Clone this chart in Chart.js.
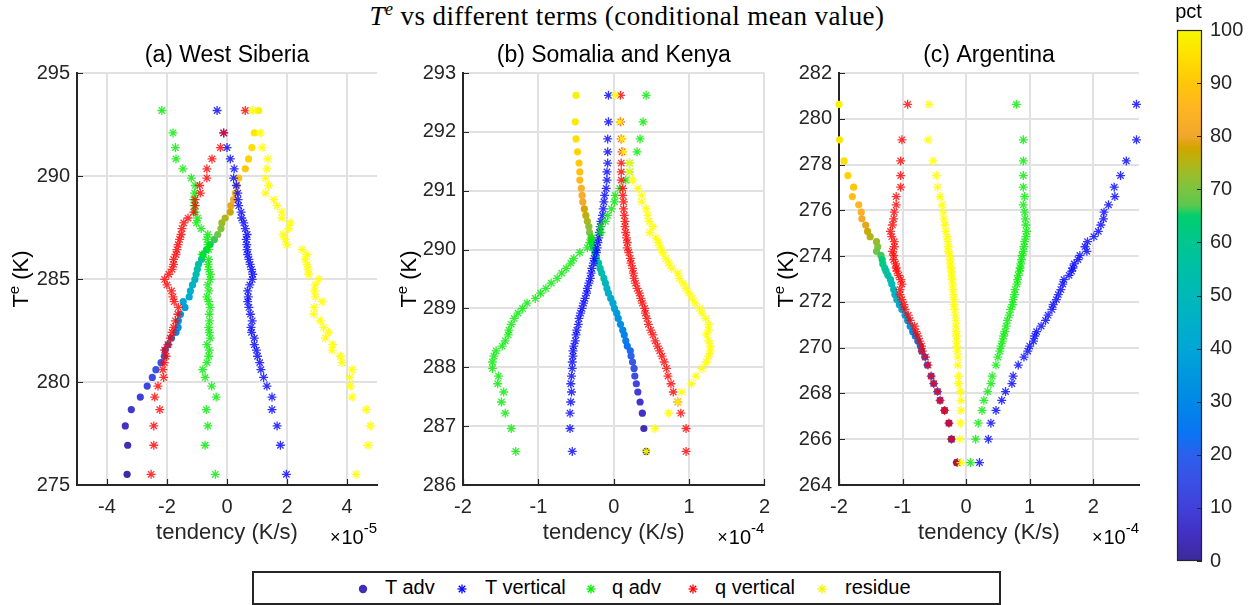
<!DOCTYPE html>
<html>
<head>
<meta charset="utf-8">
<script src="https://cdn.jsdelivr.net/npm/chart.js@4.4.1/dist/chart.umd.min.js"></script>
<style>
  body { margin: 0; background: #fff; }
  #page { position: relative; width: 1251px; height: 605px; overflow: hidden; font-family: 'Liberation Sans', Arial, sans-serif; }
  canvas { position: absolute; }
  #title { position: absolute; left: 0; width: 1254px; top: 1px; text-align: center; font-family: 'Liberation Serif', 'Times New Roman', serif; font-size: 27px; letter-spacing: 0.4px; color: #000; white-space: nowrap; }
  #title .sup { position: relative; top: -10px; font-size: 18px; }
  #legend { position: absolute; left: 252px; top: 571px; width: 745px; height: 30px; border: 2px solid #262626; background: #fff; }
  #legend svg, #legend span { position: absolute; }
  #legend span { top: 3px; font-size: 20px; color: #000; }
  #legend svg { top: 10px; }
</style>
</head>
<body>
<div id="page">
  <div id="title"><i>T</i><span class="sup"><i>e</i></span> vs different terms (conditional mean value)</div>
  <canvas id="pa"></canvas>
  <canvas id="pb"></canvas>
  <canvas id="pc"></canvas>
  <canvas id="cbar"></canvas>
  <div id="legend"></div>
</div>
<script>
// ---- data ----
// tendencies: panel (a) in 1e-5 K/s, panels (b) and (c) in 1e-4 K/s
const seriesNames = ['T adv', 'T vertical', 'q adv', 'q vertical', 'residue'];
const panelTitles = ['(a) West Siberia', '(b) Somalia and Kenya', '(c) Argentina'];

const teA = [275.52, 276.93, 277.87, 278.66, 279.27, 279.80, 280.22, 280.60, 280.94, 281.25, 281.55, 281.81, 282.13, 282.41, 282.65, 282.97, 283.29, 283.62, 283.90, 284.13, 284.42, 284.71, 284.98, 285.23, 285.47, 285.71, 285.95, 286.19, 286.43, 286.67, 286.92, 287.16, 287.45, 287.72, 287.96, 288.25, 288.56, 288.85, 289.17, 289.54, 289.90, 290.35, 290.83, 291.38, 292.09, 293.18];
const tAdvA = [-3.33, -3.31, -3.39, -3.19, -2.89, -2.66, -2.49, -2.37, -2.20, -2.09, -2.06, -1.96, -1.85, -1.70, -1.63, -1.62, -1.55, -1.40, -1.46, -1.26, -1.22, -1.15, -1.07, -1.03, -0.99, -0.95, -0.85, -0.80, -0.68, -0.56, -0.42, -0.31, -0.20, -0.17, -0.06, 0.11, 0.13, 0.22, 0.28, 0.33, 0.39, 0.61, 0.72, 0.83, 0.91, 1.06];
const tVertA = [1.98, 1.78, 1.67, 1.50, 1.50, 1.33, 1.22, 1.13, 1.09, 1.02, 0.98, 0.91, 0.91, 0.82, 0.80, 0.84, 0.78, 0.73, 0.69, 0.71, 0.69, 0.76, 0.84, 0.86, 0.82, 0.77, 0.73, 0.69, 0.67, 0.66, 0.64, 0.67, 0.61, 0.56, 0.49, 0.47, 0.39, 0.37, 0.36, 0.31, 0.22, 0.24, 0.11, 0.00, -0.11, -0.33];
const qAdvA = [-0.39, -0.73, -0.64, -0.69, -0.36, -0.51, -0.73, -0.81, -0.67, -0.61, -0.59, -0.67, -0.56, -0.59, -0.61, -0.58, -0.59, -0.56, -0.61, -0.67, -0.60, -0.64, -0.56, -0.56, -0.61, -0.63, -0.61, -0.83, -0.61, -0.64, -0.67, -0.64, -0.86, -1.02, -0.98, -1.06, -1.09, -1.11, -1.08, -1.06, -1.19, -1.47, -1.70, -1.72, -1.80, -2.17];
const qVertA = [-2.53, -2.44, -2.44, -2.24, -2.41, -2.30, -2.11, -2.14, -2.09, -2.03, -2.08, -1.97, -1.89, -1.83, -1.78, -1.72, -1.64, -1.62, -1.76, -1.80, -1.85, -2.00, -2.08, -1.94, -1.83, -1.78, -1.78, -1.70, -1.67, -1.63, -1.58, -1.53, -1.50, -1.44, -1.30, -1.11, -1.06, -1.06, -0.89, -0.91, -0.67, -0.67, -0.50, -0.22, -0.11, 0.61];
const resA = [4.30, 4.70, 4.78, 4.64, 4.17, 4.11, 4.09, 4.17, 3.83, 3.78, 3.50, 3.52, 3.28, 3.39, 3.22, 3.11, 2.89, 2.90, 3.17, 2.95, 2.92, 2.94, 3.06, 2.72, 2.70, 2.67, 2.61, 2.67, 2.50, 2.00, 1.94, 1.87, 2.05, 2.11, 1.83, 1.83, 1.67, 1.56, 1.28, 1.39, 1.28, 1.33, 1.36, 1.17, 1.11, 0.86];

const teB = [292.62, 292.17, 291.88, 291.66, 291.47, 291.32, 291.18, 291.04, 290.92, 290.81, 290.69, 290.58, 290.48, 290.39, 290.29, 290.20, 290.12, 290.03, 289.95, 289.85, 289.77, 289.68, 289.60, 289.51, 289.43, 289.34, 289.26, 289.17, 289.09, 289.00, 288.92, 288.83, 288.73, 288.63, 288.55, 288.45, 288.36, 288.28, 288.19, 288.09, 287.98, 287.85, 287.72, 287.58, 287.41, 287.22, 286.96, 286.57];
const tAdvB = [-0.50, -0.51, -0.50, -0.48, -0.46, -0.45, -0.45, -0.43, -0.42, -0.41, -0.39, -0.37, -0.35, -0.33, -0.32, -0.30, -0.29, -0.27, -0.25, -0.23, -0.20, -0.18, -0.16, -0.13, -0.11, -0.09, -0.07, -0.04, -0.01, 0.01, 0.04, 0.06, 0.09, 0.12, 0.14, 0.16, 0.18, 0.22, 0.23, 0.25, 0.27, 0.28, 0.30, 0.32, 0.35, 0.38, 0.40, 0.43];
const tVertB = [-0.07, -0.07, -0.08, -0.08, -0.08, -0.09, -0.09, -0.10, -0.12, -0.13, -0.14, -0.15, -0.17, -0.18, -0.19, -0.20, -0.21, -0.22, -0.23, -0.26, -0.27, -0.29, -0.30, -0.31, -0.33, -0.35, -0.36, -0.38, -0.40, -0.42, -0.44, -0.46, -0.47, -0.49, -0.50, -0.51, -0.53, -0.54, -0.54, -0.55, -0.55, -0.56, -0.57, -0.56, -0.57, -0.58, -0.58, -0.55];
const qAdvB = [0.43, 0.39, 0.35, 0.31, 0.21, 0.21, 0.16, 0.08, 0.02, 0.01, -0.03, -0.08, -0.11, -0.17, -0.17, -0.29, -0.32, -0.35, -0.45, -0.53, -0.57, -0.63, -0.69, -0.75, -0.83, -0.90, -0.97, -1.04, -1.15, -1.21, -1.27, -1.32, -1.36, -1.39, -1.40, -1.44, -1.48, -1.56, -1.59, -1.61, -1.61, -1.53, -1.54, -1.46, -1.49, -1.44, -1.36, -1.30];
const qVertB = [0.09, 0.09, 0.10, 0.11, 0.10, 0.10, 0.10, 0.12, 0.12, 0.13, 0.13, 0.14, 0.15, 0.15, 0.16, 0.17, 0.18, 0.18, 0.20, 0.22, 0.23, 0.25, 0.26, 0.27, 0.29, 0.31, 0.34, 0.36, 0.38, 0.41, 0.42, 0.44, 0.46, 0.49, 0.52, 0.55, 0.58, 0.61, 0.64, 0.67, 0.70, 0.72, 0.76, 0.79, 0.85, 0.89, 0.96, 0.96];
const resB = [0.02, 0.08, 0.11, 0.13, 0.21, 0.21, 0.25, 0.32, 0.37, 0.37, 0.43, 0.45, 0.47, 0.52, 0.48, 0.56, 0.59, 0.62, 0.65, 0.69, 0.73, 0.77, 0.85, 0.87, 0.92, 0.96, 1.00, 1.04, 1.08, 1.14, 1.17, 1.22, 1.26, 1.26, 1.23, 1.26, 1.28, 1.28, 1.26, 1.23, 1.17, 1.09, 1.03, 0.90, 0.85, 0.73, 0.55, 0.43];

const teC = [280.63, 279.08, 278.16, 277.52, 277.01, 276.60, 276.24, 275.92, 275.63, 275.36, 275.08, 274.85, 274.63, 274.41, 274.21, 274.03, 273.85, 273.66, 273.48, 273.34, 273.16, 272.97, 272.78, 272.54, 272.32, 272.10, 271.88, 271.67, 271.42, 271.19, 270.94, 270.70, 270.51, 270.29, 270.07, 269.85, 269.59, 269.24, 268.76, 268.43, 268.08, 267.70, 267.26, 266.70, 266.00, 264.98];
const tAdvC = [-2.00, -1.99, -1.92, -1.86, -1.77, -1.79, -1.69, -1.65, -1.64, -1.58, -1.55, -1.51, -1.41, -1.39, -1.41, -1.34, -1.32, -1.31, -1.28, -1.26, -1.23, -1.19, -1.17, -1.14, -1.12, -1.09, -1.05, -1.01, -0.96, -0.92, -0.88, -0.84, -0.80, -0.76, -0.72, -0.70, -0.65, -0.61, -0.55, -0.51, -0.45, -0.41, -0.34, -0.27, -0.23, -0.15];
const tVertC = [2.68, 2.68, 2.52, 2.43, 2.33, 2.34, 2.24, 2.17, 2.16, 2.12, 2.08, 2.01, 1.91, 1.87, 1.90, 1.79, 1.76, 1.70, 1.68, 1.66, 1.62, 1.54, 1.52, 1.49, 1.45, 1.42, 1.37, 1.35, 1.29, 1.25, 1.18, 1.11, 1.08, 1.06, 1.00, 0.97, 0.91, 0.82, 0.74, 0.72, 0.62, 0.56, 0.47, 0.39, 0.35, 0.21];
const qAdvC = [0.79, 0.90, 0.90, 0.90, 0.90, 0.92, 0.90, 0.92, 0.93, 0.94, 0.95, 0.94, 0.92, 0.91, 0.90, 0.88, 0.87, 0.86, 0.85, 0.84, 0.82, 0.81, 0.80, 0.77, 0.76, 0.74, 0.73, 0.70, 0.68, 0.65, 0.63, 0.61, 0.59, 0.57, 0.55, 0.53, 0.50, 0.47, 0.41, 0.39, 0.34, 0.28, 0.25, 0.19, 0.15, 0.07];
const qVertC = [-0.92, -1.01, -1.03, -1.03, -1.03, -1.10, -1.10, -1.13, -1.14, -1.16, -1.19, -1.17, -1.13, -1.13, -1.16, -1.14, -1.14, -1.11, -1.10, -1.09, -1.06, -1.03, -1.01, -1.04, -1.04, -1.01, -0.98, -0.96, -0.91, -0.88, -0.81, -0.79, -0.76, -0.73, -0.70, -0.69, -0.64, -0.60, -0.55, -0.51, -0.45, -0.41, -0.34, -0.27, -0.23, -0.14];
const resC = [-0.58, -0.60, -0.52, -0.47, -0.45, -0.41, -0.38, -0.36, -0.35, -0.33, -0.32, -0.30, -0.29, -0.28, -0.28, -0.26, -0.25, -0.25, -0.24, -0.23, -0.23, -0.22, -0.21, -0.21, -0.20, -0.19, -0.19, -0.18, -0.17, -0.16, -0.16, -0.16, -0.15, -0.15, -0.15, -0.14, -0.13, -0.13, -0.12, -0.12, -0.09, -0.08, -0.08, -0.09, -0.10, -0.08];

const xTicksA = [-4, -2, 0, 2, 4];
const yTicksA = [275, 280, 285, 290, 295];
const xTicksB = [-2, -1, 0, 1, 2];
const yTicksB = [286, 287, 288, 289, 290, 291, 292, 293];
const xTicksC = [-2, -1, 0, 1, 2];
const yTicksC = [264, 266, 268, 270, 272, 274, 276, 278, 280, 282];
const pctTicks = [0, 10, 20, 30, 40, 50, 60, 70, 80, 90, 100];

// ---- style ----
Chart.defaults.font.family = "'Liberation Sans', Arial, Helvetica, sans-serif";
Chart.defaults.color = '#262626';

const cmap = [[0, '#3b2a98'], [5, '#4230c2'], [10, '#4140da'], [15, '#3a50e4'], [20, '#2b60ec'], [24, '#0a74f4'], [30, '#0088e6'], [35, '#0097de'], [40, '#00a6d6'], [45, '#00b0c8'], [50, '#00b8b8'], [55, '#00bfa6'], [60, '#00c690'], [65, '#00cf6c'], [67, '#5cc850'], [70, '#7cc440'], [73, '#9cbc28'], [76, '#beb00c'], [78, '#d4a400'], [80, '#f2a62e'], [85, '#ffb424'], [90, '#ffc608'], [95, '#ffe000'], [100, '#f6f800']];

function hexRgb(h) { return [1, 3, 5].map(i => parseInt(h.slice(i, i + 2), 16)); }
function pctColor(p) {
  for (let i = 1; i < cmap.length; i++) {
    if (p <= cmap[i][0]) {
      const [p0, c0] = cmap[i - 1], [p1, c1] = cmap[i];
      const t = (p - p0) / (p1 - p0), a = hexRgb(c0), b = hexRgb(c1);
      return 'rgb(' + a.map((v, k) => Math.round(v + (b[k] - v) * t)).join(',') + ')';
    }
  }
  return cmap[cmap.length - 1][1];
}
// percentile bin of each point from its rank in Te
function pctOf(te) {
  const s = [...te].sort((a, b) => a - b);
  return te.map(v => (s.indexOf(v) + 0.5) / te.length * 100);
}

// title, y label, inward ticks and the x10^n factor, MATLAB style
const matlabAxes = {
  id: 'matlabAxes',
  afterDraw(chart, args, o) {
    const { ctx, chartArea: a, scales } = chart;
    ctx.save();
    ctx.strokeStyle = '#262626';
    ctx.lineWidth = 1.2;
    ctx.beginPath();
    (o.xTicks || []).forEach(v => {
      const px = Math.round(scales.x.getPixelForValue(v)) + 0.5;
      ctx.moveTo(px, a.bottom); ctx.lineTo(px, a.bottom - 6);
    });
    (o.yTicks || []).forEach(v => {
      const py = Math.round(scales.y.getPixelForValue(v)) + 0.5;
      ctx.moveTo(a.left, py); ctx.lineTo(a.left + 6, py);
    });
    ctx.stroke();
    ctx.fillStyle = '#000';
    if (o.title) {
      ctx.font = "23px 'Liberation Sans', Arial, sans-serif";
      ctx.textAlign = 'center';
      ctx.textBaseline = 'middle';
      ctx.fillText(o.title, (a.left + a.right) / 2, a.top - 17);
    }
    if (o.yTitleX) {
      const big = "22px 'Liberation Sans', Arial, sans-serif", small = "15px 'Liberation Sans', Arial, sans-serif";
      ctx.font = big; const w1 = ctx.measureText('T').width, w3 = ctx.measureText(' (K)').width;
      ctx.font = small; const w2 = ctx.measureText('e').width;
      ctx.translate(o.yTitleX, (a.top + a.bottom) / 2);
      ctx.rotate(-Math.PI / 2);
      ctx.textAlign = 'left'; ctx.textBaseline = 'alphabetic';
      let x = -(w1 + w2 + w3) / 2;
      ctx.font = big; ctx.fillText('T', x, 0); x += w1;
      ctx.font = small; ctx.fillText('e', x, -9); x += w2;
      ctx.font = big; ctx.fillText(' (K)', x, 0);
      ctx.setTransform(1, 0, 0, 1, 0, 0);
    }
    if (o.expo) {
      ctx.textAlign = 'right'; ctx.textBaseline = 'alphabetic';
      ctx.font = "15px 'Liberation Sans', Arial, sans-serif";
      const ws = ctx.measureText(o.expo).width;
      ctx.fillText(o.expo, a.right, a.bottom + 48);
      ctx.font = "20px 'Liberation Sans', Arial, sans-serif";
      ctx.fillText('10', a.right - ws, a.bottom + 59);
      const w10 = ctx.measureText('10').width;
      ctx.font = "18px 'Liberation Sans', Arial, sans-serif";
      ctx.fillText('\u00d7', a.right - ws - w10 - 1, a.bottom + 58);
    }
    ctx.restore();
  }
};

const panels = [
  { id: 'pa', left: 0, width: 390, plotLeft: 77, plotRight: 377, yTitleX: 28, te: teA, ser: [tAdvA, tVertA, qAdvA, qVertA, resA], xMin: -5, xMax: 5, yMin: 275, yMax: 295, xTicks: xTicksA, yTicks: yTicksA, expo: '-5', title: panelTitles[0] },
  { id: 'pb', left: 390, width: 390, plotLeft: 463, plotRight: 765, yTitleX: 26, te: teB, ser: [tAdvB, tVertB, qAdvB, qVertB, resB], xMin: -2, xMax: 2, yMin: 286, yMax: 293, xTicks: xTicksB, yTicks: yTicksB, expo: '-4', title: panelTitles[1] },
  { id: 'pc', left: 765, width: 390, plotLeft: 839, plotRight: 1139, yTitleX: 28, te: teC, ser: [tAdvC, tVertC, qAdvC, qVertC, resC], xMin: -2, xMax: 2.72, yMin: 264, yMax: 282, xTicks: xTicksC, yTicks: yTicksC, expo: '-4', title: panelTitles[2] }
];
const starColors = ['rgba(0,0,255,0.8)', 'rgba(0,235,0,0.8)', 'rgba(255,0,0,0.8)', 'rgba(255,255,0,0.9)'];

panels.forEach(p => {
  const canvas = document.getElementById(p.id);
  canvas.width = p.width; canvas.height = 520;
  canvas.style.left = p.left + 'px'; canvas.style.top = '40px';
  const pts = xs => p.te.map((y, i) => ({ x: xs[i], y: y }));
  const pct = pctOf(p.te);
  const datasets = [{
    label: seriesNames[0], data: pts(p.ser[0]), pointStyle: 'circle', pointRadius: 3.6,
    pointBackgroundColor: pct.map(pctColor), pointBorderWidth: 0, order: 5, clip: false
  }];
  for (let k = 1; k < 5; k++) {
    datasets.push({
      label: seriesNames[k], data: pts(p.ser[k]), pointStyle: 'star', pointRadius: 4.5,
      pointBorderColor: starColors[k - 1], pointBackgroundColor: starColors[k - 1], pointBorderWidth: 1.3,
      order: 5 - k, clip: false
    });
  }
  new Chart(canvas, {
    type: 'scatter',
    data: { datasets },
    options: {
      responsive: false, animation: false, devicePixelRatio: 1,
      layout: { padding: { top: 33, right: p.left + p.width - p.plotRight, left: 0, bottom: 0 } },
      plugins: {
        legend: { display: false }, tooltip: { enabled: false },
        matlabAxes: { title: p.title, yTitleX: p.yTitleX, xTicks: p.xTicks, yTicks: p.yTicks, expo: p.expo }
      },
      scales: {
        x: {
          type: 'linear', min: p.xMin, max: p.xMax,
          afterBuildTicks: s => { s.ticks = p.xTicks.map(v => ({ value: v })); },
          afterFit: s => { s.height = 75; },
          grid: { color: '#e1e1e1', lineWidth: 2, drawTicks: false },
          border: { color: '#262626', width: 2 },
          ticks: { padding: 10, font: { size: 20 }, color: '#262626' },
          title: { display: true, text: 'tendency (K/s)', font: { size: 22 }, color: '#262626', padding: { top: 0, bottom: 14 } }
        },
        y: {
          type: 'linear', min: p.yMin, max: p.yMax,
          afterBuildTicks: s => { s.ticks = p.yTicks.map(v => ({ value: v })); },
          afterFit: s => { s.width = p.plotLeft - p.left; },
          grid: { color: '#e1e1e1', lineWidth: 2, drawTicks: false },
          border: { color: '#262626', width: 2 },
          ticks: { padding: 7, font: { size: 20 }, color: '#262626' }
        }
      }
    },
    plugins: [matlabAxes]
  });
});

// ---- colour bar ----
const cb = document.getElementById('cbar');
cb.width = 91; cb.height = 605; cb.style.left = '1160px'; cb.style.top = '0px';
const cbarPlugin = {
  id: 'cbarDeco',
  afterDraw(chart) {
    const { ctx, chartArea: a, scales } = chart;
    ctx.save();
    ctx.strokeStyle = '#262626'; ctx.lineWidth = 1.2;
    ctx.strokeRect(a.left + 0.5, a.top + 0.5, a.right - a.left - 1, a.bottom - a.top - 1);
    ctx.beginPath();
    pctTicks.forEach(v => {
      const py = Math.round(scales.y.getPixelForValue(v)) + 0.5;
      ctx.moveTo(a.right, py); ctx.lineTo(a.right - 5, py);
    });
    ctx.stroke();
    ctx.fillStyle = '#000';
    ctx.font = "20px 'Liberation Sans', Arial, sans-serif";
    ctx.textAlign = 'center'; ctx.textBaseline = 'middle';
    ctx.fillText('pct', (a.left + a.right) / 2 - 1, 12);
    ctx.restore();
  }
};
new Chart(cb, {
  type: 'bar',
  data: {
    labels: ['pct'],
    datasets: [{
      data: [[0, 100]],
      backgroundColor: c => {
        const area = c.chart.chartArea;
        if (!area) return '#888';
        const g = c.chart.ctx.createLinearGradient(0, area.bottom, 0, area.top);
        cmap.forEach(([p, col]) => g.addColorStop(p / 100, col));
        return g;
      },
      borderWidth: 0, barPercentage: 1, categoryPercentage: 1
    }]
  },
  options: {
    responsive: false, animation: false, devicePixelRatio: 1,
    layout: { padding: { left: 17, top: 30, bottom: 44, right: 0 } },
    plugins: { legend: { display: false }, tooltip: { enabled: false } },
    scales: {
      x: { display: false },
      y: {
        position: 'right', min: 0, max: 100,
        afterBuildTicks: s => { s.ticks = pctTicks.map(v => ({ value: v })); },
        afterFit: s => { s.width = 49; },
        grid: { display: false, drawTicks: false }, border: { display: false },
        ticks: { padding: 8, font: { size: 20 }, color: '#262626' }
      }
    }
  },
  plugins: [cbarPlugin]
});

// ---- legend ----
const legendMarks = [
  { kind: 'dot', color: '#3f2fb8', x: 363, tx: 385 },
  { kind: 'star', color: '#0000ff', x: 462, tx: 485 },
  { kind: 'star', color: '#00ee00', x: 591, tx: 612 },
  { kind: 'star', color: '#ff0000', x: 693, tx: 715 },
  { kind: 'star', color: '#f5f500', x: 822, tx: 845 }
];
const lg = document.getElementById('legend');
legendMarks.forEach((m, i) => {
  const svgNS = 'http://www.w3.org/2000/svg';
  const svg = document.createElementNS(svgNS, 'svg');
  svg.setAttribute('width', 12); svg.setAttribute('height', 12);
  svg.style.left = (m.x - 254 - 6) + 'px';
  if (m.kind === 'dot') {
    svg.innerHTML = '<circle cx="6" cy="6" r="4.2" fill="' + m.color + '"/>';
  } else {
    svg.innerHTML = '<g stroke="' + m.color + '" stroke-width="1.3">' +
      '<line x1="6" y1="1.5" x2="6" y2="10.5"/><line x1="1.5" y1="6" x2="10.5" y2="6"/>' +
      '<line x1="2.8" y1="2.8" x2="9.2" y2="9.2"/><line x1="9.2" y1="2.8" x2="2.8" y2="9.2"/></g>';
  }
  lg.appendChild(svg);
  const sp = document.createElement('span');
  sp.textContent = seriesNames[i];
  sp.style.left = (m.tx - 254) + 'px';
  lg.appendChild(sp);
});
</script>
</body>
</html>
